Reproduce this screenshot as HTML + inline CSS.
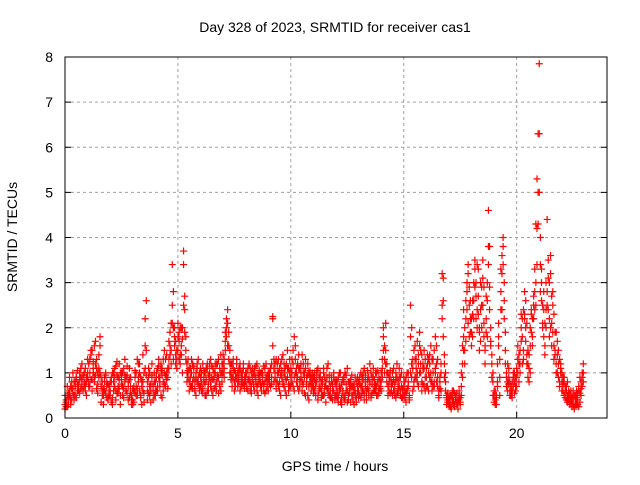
<!DOCTYPE html>
<html><head><meta charset="utf-8"><style>
body{margin:0;background:#fff}
svg text{font-family:"Liberation Sans",sans-serif;font-size:14px;fill:#000}
</style></head><body>
<svg id="chart" width="640" height="480" viewBox="0 0 640 480" xmlns="http://www.w3.org/2000/svg">
<rect width="640" height="480" fill="#fff"/>
<text x="335" y="32" text-anchor="middle">Day 328 of 2023, SRMTID for receiver cas1</text>
<g id="grid"></g>
<g id="ticks"></g>
<g id="marks"></g>
<rect x="65" y="57" width="542" height="361" fill="none" stroke="#000" stroke-width="1"/>
<text x="335" y="471" text-anchor="middle">GPS time / hours</text>
<text x="17" y="237" text-anchor="middle" transform="rotate(-90 17 237)">SRMTID / TECUs</text>
</svg>
<script>
const xTicks=[0,5,10,15,20];
const yTicks=[0,1,2,3,4,5,6,7,8];
const timeStart=0, timeStep=0.05;
const seriesA=[
.2,.35,.5,.3,.6,.45,.8,.55,.4,.7,.9,.6,.75,1.0,.65,.85,.95,.7,1.1,.8,
.9,1.2,.7,1.4,.85,1.0,1.6,.95,1.3,.75,1.1,1.8,.9,.6,.5,.8,1.0,.7,.45,.6,
.5,.9,.3,.8,1.1,.6,.95,.7,1.2,.5,.85,1.0,.65,1.3,.9,.55,.8,1.1,.7,.4,
.3,.6,.9,.5,1.3,.8,1.0,.45,.7,1.4,.35,1.1,2.6,.6,.9,.5,.75,1.2,.4,.8,
.6,1.0,.7,1.3,.9,.5,1.1,.8,1.5,.7,1.0,.9,1.3,1.6,1.2,3.4,2.8,1.8,1.4,1.5,
2.1,1.7,1.2,1.6,2.0,3.7,2.7,1.5,1.0,1.3,.8,1.1,.7,1.2,.9,.6,1.0,.8,1.3,.7,
.9,.6,1.2,.8,1.0,.5,1.1,.75,.9,1.3,.6,.85,1.0,.7,1.2,.9,.55,1.1,1.4,.8,
1.0,1.3,1.7,2.2,2.4,1.9,1.5,1.2,.9,1.1,.8,1.0,1.2,.7,.95,1.1,.85,1.0,.75,.9,
.8,1.0,.6,.9,1.1,.7,.85,1.0,.6,.9,1.2,.75,.95,.7,1.0,.8,.6,1.1,.9,.7,
.85,1.0,.7,1.2,2.25,1.1,.9,1.3,.8,1.0,.6,1.2,.9,1.4,.7,1.1,.85,1.5,.6,1.0,
.9,1.3,.7,1.8,1.0,.8,1.2,.6,1.1,.9,1.4,.75,1.0,.5,.9,1.2,.7,.95,.6,.85,
.7,1.0,.5,.8,1.1,.6,.9,.45,.75,1.0,.55,.8,.65,1.2,.5,.7,.9,.4,.6,.8,
.5,.8,.35,.7,1.0,.45,.6,.9,.5,.75,1.1,.4,.65,.85,.5,.7,.3,.6,.8,.55,
.6,.9,.45,.7,1.0,.55,.8,.4,.65,.9,1.2,.5,.75,.6,.85,1.0,.7,.5,.9,.65,
.8,1.1,1.5,1.3,2.1,1.0,.7,.9,.55,.8,1.0,.6,.75,.45,.9,.65,1.1,.5,.7,.6,
.5,.8,.35,.65,1.0,.5,2.5,.9,1.3,.7,1.6,1.1,.8,1.4,1.9,1.0,.6,1.2,1.5,.9,
1.1,.7,1.3,.9,1.6,.6,1.0,.8,1.8,1.2,.7,.5,.9,.6,3.2,2.6,1.4,.8,.5,.4,
.3,.5,.25,.45,.6,.3,.4,.55,.2,.5,.35,.7,1.2,1.8,1.5,2.2,2.8,3.4,2.5,1.9,
1.6,2.3,3.0,3.5,2.7,2.0,3.3,1.5,2.4,2.9,3.1,1.8,1.2,2.2,2.6,4.6,3.8,2.0,1.4,1.0,
.6,.4,.3,.8,2.1,.5,2.8,3.6,4.0,3.0,1.5,.7,1.2,.9,.6,.5,.8,.7,1.0,.6,
.9,1.3,.8,1.5,2.0,1.2,2.4,2.8,1.7,2.1,.9,1.4,1.0,2.3,1.6,2.5,3.3,4.3,5.3,6.3,
7.85,4.0,3.0,2.5,1.8,2.1,2.4,4.4,3.1,2.2,3.6,2.7,1.9,2.3,1.5,1.2,1.7,.9,1.3,1.1,
1.0,.6,.9,.7,.4,.8,.5,.3,.6,.25,.45,.2,.4,.3,.55,.7,.35,.8,1.0,1.2];
const seriesB=[
.3,.4,.25,.55,.5,.7,.4,.65,.8,.5,.9,.75,.6,.85,1.1,.7,.95,.8,.6,.9,
1.0,.7,1.3,.85,1.5,1.1,.8,1.2,.65,1.0,.9,1.6,.7,.5,.65,.9,.55,.8,.4,.7,
.6,.8,.45,1.0,.7,1.15,.55,.9,.65,1.0,.75,.5,1.1,.8,.6,.95,.7,.45,.9,.5,
.4,.7,.55,1.0,.65,.9,1.2,.5,.85,.6,1.0,2.2,1.5,.8,.55,1.0,.6,.9,.7,.5,
.8,.6,1.1,.9,.7,1.2,.95,.6,1.0,1.3,.85,1.1,1.7,1.4,2.1,2.5,2.0,1.6,1.2,1.3,
1.5,1.9,1.4,2.0,1.0,3.4,2.4,1.8,1.2,.9,1.1,.7,1.0,.8,1.1,.65,.9,1.2,.75,1.0,
.7,1.0,.55,.9,.75,1.1,.6,.95,1.2,.7,.9,1.1,.65,1.0,.8,1.2,.9,.7,1.0,1.2,
1.4,1.1,1.9,2.0,1.6,1.3,1.0,.85,1.2,.9,1.05,.7,.9,1.0,.8,1.2,.7,.9,1.1,.8,
.9,.7,1.1,.8,.6,1.0,.9,.75,1.1,.8,.6,.95,.85,1.0,.7,.9,1.15,.8,.6,.95,
1.0,.75,1.1,.9,2.2,1.3,1.0,.8,1.2,.7,1.1,.95,1.3,.8,1.0,.6,1.2,.9,1.1,.7,
1.1,.8,1.5,.9,1.3,1.0,.7,1.1,.85,1.2,.6,1.0,.9,1.3,.7,.5,1.0,.8,.9,.7,
.9,.6,.8,.95,.5,.7,1.0,.6,.85,.5,.9,.7,1.1,.55,.8,.6,.45,.75,.9,.5,
.7,.45,.9,.6,.35,.75,.55,.8,.4,.95,.6,.5,.8,.35,.7,.5,.6,.9,.45,.7,
.8,.5,.7,.9,.6,1.1,.7,.5,.85,.6,.75,1.0,.55,.9,.7,.6,1.0,.8,.55,.7,
1.0,.9,2.0,1.6,1.2,.8,1.0,.6,.9,.7,.5,.85,.6,1.0,.55,.8,.7,.9,.45,.65,
.7,.45,.9,.6,.8,.4,1.0,2.0,1.1,.8,1.3,.9,1.7,1.2,1.0,1.5,.8,1.1,.7,1.3,
.9,1.2,.6,1.4,1.0,.8,1.3,.7,1.1,1.6,.9,.6,.8,1.0,2.5,3.1,1.2,.6,.45,.35,
.4,.25,.5,.35,.3,.55,.45,.3,.4,.6,.3,.5,.9,1.5,2.0,1.7,2.4,3.2,2.9,2.2,
1.9,2.6,2.2,3.3,3.0,2.4,2.7,2.0,1.7,2.5,3.5,2.1,1.5,1.9,3.0,3.8,2.4,1.6,1.2,.8,
.5,.3,.45,.7,1.6,.9,2.4,3.2,3.8,2.6,1.2,.9,.8,1.1,.5,.7,.6,.9,.8,.7,
1.1,1.0,1.4,1.2,1.7,2.2,1.5,2.3,2.0,1.4,1.2,1.1,1.6,1.9,2.2,2.7,2.4,3.0,4.2,5.0,
6.3,3.4,2.6,2.0,2.8,1.6,3.0,2.5,3.5,1.8,3.2,2.1,2.5,1.6,1.4,1.9,1.0,1.5,.8,1.2,
.8,.9,.5,.6,.7,.35,.6,.4,.5,.3,.6,.25,.5,.45,.3,.6,.9,.5,.7,1.0];
const seriesC=[
.5,.25,.7,.4,.9,.3,.65,1.0,.5,.8,.45,1.05,.7,.55,.9,1.2,.6,1.0,.75,.5,
1.3,.8,1.0,1.5,.6,1.25,.9,1.7,1.1,.55,1.4,1.0,.35,.8,.3,.6,.95,.45,.75,.5,
.8,.35,1.0,.6,.9,.4,1.25,.55,.85,.3,1.0,.7,.45,.95,.6,1.15,.4,.85,.55,.3,
.65,.35,1.05,.7,.5,1.2,.6,.9,.3,.8,.55,1.6,.95,.4,1.1,.7,.35,.95,.6,1.0,
.5,.9,.6,1.15,.8,1.05,.45,1.3,.75,.95,1.4,.65,1.1,1.9,1.5,2.1,1.3,2.0,1.7,1.1,
1.8,1.3,2.0,1.4,1.75,2.5,1.9,1.3,.8,1.05,.6,.9,1.3,.65,1.15,.8,.5,1.1,.9,.6,
1.1,.8,.65,1.05,.5,.85,1.2,.6,1.0,.8,1.15,.5,.9,1.2,.6,.95,1.3,.75,.6,1.0,
1.2,.9,1.5,1.8,2.1,1.6,1.2,1.0,.7,1.3,.6,.9,1.3,.8,1.1,.6,1.0,.75,1.2,.65,
1.0,.65,.85,1.2,.8,.55,1.1,.7,.95,1.15,.7,.5,1.05,.8,.6,1.0,.75,.55,1.2,.8,
.6,.9,1.1,.75,1.6,.8,1.2,.65,1.0,1.3,.8,.5,1.05,.75,1.2,.9,.5,1.1,.75,1.3,
.7,1.0,1.2,.6,1.6,1.1,.9,1.4,.7,1.0,.8,1.2,.55,1.1,.8,.95,.4,1.05,.75,1.0,
.55,.85,.7,1.05,.4,.9,.65,.8,.5,1.1,.7,.35,.9,.65,.95,.45,.8,.6,1.0,.4,
.85,.6,.5,1.0,.65,.3,.85,.45,1.0,.6,.35,.8,.55,.7,.95,.4,.75,.5,.35,.9,
.45,.75,1.0,.55,.85,.4,.95,.6,1.05,.5,.8,.45,.9,1.1,.6,.75,.5,1.05,.65,.85,
.6,1.3,1.8,1.0,1.5,1.2,.5,.8,1.05,.6,.75,1.1,.5,.85,1.2,.55,.9,.6,1.0,.45,
.9,.6,.55,1.0,.7,.45,1.8,1.2,.6,1.5,.9,1.3,1.0,.7,1.6,1.2,1.4,.75,1.1,.6,
.7,1.4,1.0,1.2,.8,1.3,.7,1.5,1.0,.8,1.3,.45,.65,1.2,2.2,1.8,.9,1.0,.3,.55,
.45,.35,.2,.6,.4,.25,.5,.35,.3,.4,.45,1.0,1.6,2.4,1.2,2.6,3.0,2.1,1.8,2.6,
2.2,1.8,2.6,2.9,2.2,3.4,2.3,1.9,3.0,2.0,2.5,2.9,1.6,2.7,1.8,3.4,2.9,1.7,.9,.5,
.35,.6,.5,1.2,1.8,1.3,3.3,2.4,3.4,2.2,1.9,1.0,.6,.75,.8,.6,.45,1.0,.55,.9,
.7,1.6,1.2,1.0,2.3,1.8,1.3,2.2,2.6,1.2,1.5,.8,2.0,2.4,1.8,2.2,2.8,2.5,3.4,4.3,
5.0,2.8,3.3,2.1,2.4,1.4,2.0,2.8,2.4,3.0,2.0,1.6,2.8,1.3,1.9,1.0,1.4,1.2,.7,1.0,
.6,.75,.8,.45,.6,.5,.4,.55,.35,.45,.3,.5,.3,.6,.4,.25,.55,.65,.9,.8];

const L=65,R=607,T=57,B=418,XMAX=24,YMAX=8;
function xs(v){return L+(R-L)*v/XMAX;}
function ys(v){return B-(B-T)*v/YMAX;}
const NS="http://www.w3.org/2000/svg";
const grid=document.getElementById('grid'),ticks=document.getElementById('ticks'),marks=document.getElementById('marks');
function mk(tag,attrs,parent){const e=document.createElementNS(NS,tag);for(const k in attrs)e.setAttribute(k,attrs[k]);parent.appendChild(e);return e;}
xTicks.forEach(t=>{
  const x=xs(t);
  if(t>0){const g=mk('line',{x1:x,y1:T,x2:x,y2:B,stroke:'#a0a0a0','stroke-dasharray':'3,3'},grid);
  
  }
  const tl=mk('text',{x:x,y:B+20,'text-anchor':'middle'},ticks);tl.textContent=t;
  
  
  mk('line',{x1:x,y1:B,x2:x,y2:B-6,stroke:'#000'},ticks);
});
yTicks.forEach(t=>{
  const y=ys(t);
  if(t>0&&t<YMAX){const g=mk('line',{x1:L,y1:y,x2:R,y2:y,stroke:'#a0a0a0','stroke-dasharray':'3,3'},grid);
  
  }
  const tl=mk('text',{x:L-12,y:y+5,'text-anchor':'end'},ticks);tl.textContent=t;
  
  
  mk('line',{x1:L,y1:y,x2:L+6,y2:y,stroke:'#000'},ticks);
  mk('line',{x1:R,y1:y,x2:R-6,y2:y,stroke:'#000'},ticks);
});
function plus(x,y,col){
  const p=mk('path',{d:`M${x-3.5},${y}H${x+3.5}M${x},${y-3.5}V${y+3.5}`,stroke:col,'stroke-width':1.2,fill:'none'},marks);
  
  
}
[seriesA,seriesB,seriesC].forEach(s=>s.forEach((v,i)=>plus(xs(timeStart+i*timeStep),ys(v),'#ff0000')));
</script>
</body></html>
